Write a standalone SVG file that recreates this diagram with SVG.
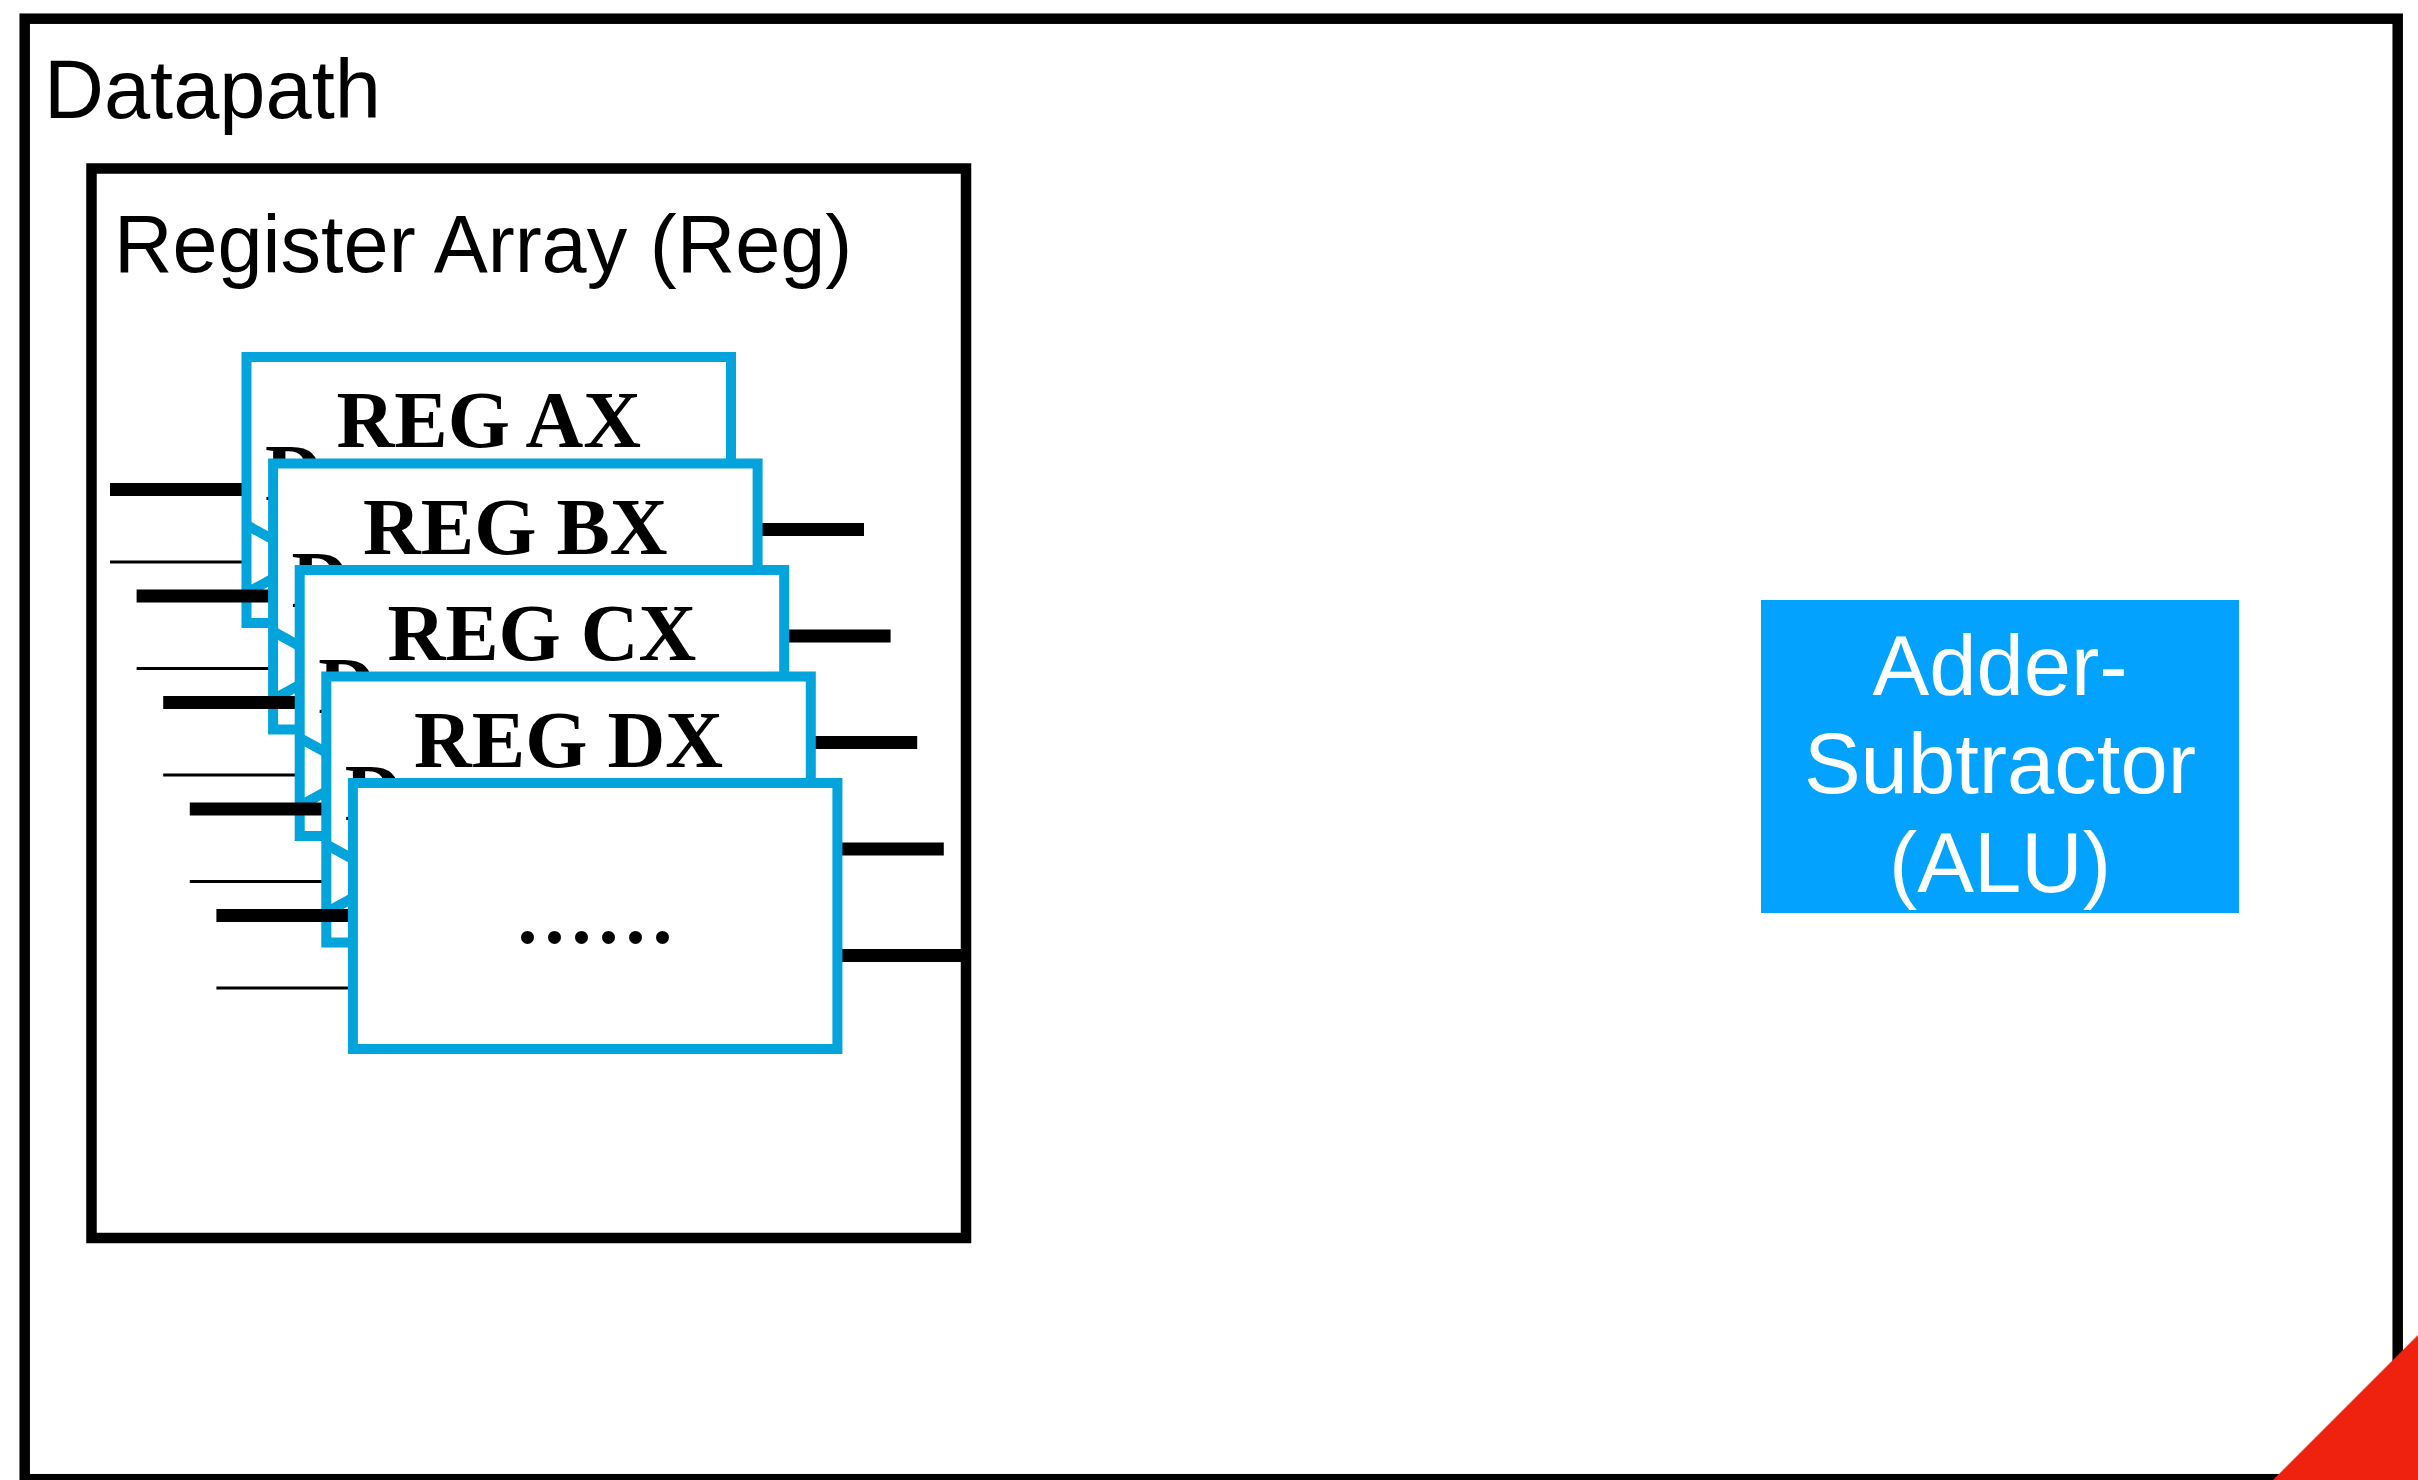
<svg xmlns="http://www.w3.org/2000/svg" width="2418" height="1480" viewBox="0 0 2418 1480">
<style>
.frame{fill:none;stroke:#000;stroke-width:10.5}
.reg{fill:#fff;stroke:#02A4DB;stroke-width:10}
.clk{fill:none;stroke:#02A4DB;stroke-width:10}
.thick{stroke:#000;stroke-width:13}
.thin{stroke:#000;stroke-width:3}
.lbl{font-family:"Liberation Sans",Arial,sans-serif;font-size:81px;fill:#000}
.rt{font-family:"Liberation Serif","Times New Roman",serif;font-weight:bold;font-size:80px;fill:#000}
.alu{font-family:"Liberation Sans",Arial,sans-serif;font-size:85px;fill:#fff;text-anchor:middle}
</style>
<rect width="2418" height="1480" fill="#fff"/>
<g id="datapath">
<rect class="frame" x="24.7" y="18.7" width="2373" height="1460.5"/>
<text class="lbl" x="44" y="118" style="font-size:83px">Datapath</text>
</g>
<g id="register-array">
<rect class="frame" x="91.5" y="168.5" width="874.5" height="1069.5"/>
<text class="lbl" x="114" y="272">Register Array (Reg)</text>
</g>
<g id="connectors-ax">
<line class="thick" x1="110" y1="489.5" x2="246.5" y2="489.5"/>
<line class="thin" x1="110" y1="562" x2="246.5" y2="562"/>
<line class="thick" x1="731" y1="529.5" x2="864" y2="529.5"/>
</g>
<g id="reg-ax">
<rect class="reg" x="246.5" y="357" width="484.5" height="266"/>
<polyline class="clk" points="246.5,525 308.5,559 246.5,593"/>
<text class="rt" x="265" y="500">D</text>
<text class="rt" x="488.75" y="447" text-anchor="middle">REG AX</text>
</g>
<g id="connectors-bx">
<line class="thick" x1="136.6" y1="596" x2="273.1" y2="596"/>
<line class="thin" x1="136.6" y1="668.5" x2="273.1" y2="668.5"/>
<line class="thick" x1="757.6" y1="636" x2="890.6" y2="636"/>
</g>
<g id="reg-bx">
<rect class="reg" x="273.1" y="463.5" width="484.5" height="266"/>
<polyline class="clk" points="273.1,631.5 335.1,665.5 273.1,699.5"/>
<text class="rt" x="291.6" y="606.5">D</text>
<text class="rt" x="515.35" y="553.5" text-anchor="middle">REG BX</text>
</g>
<g id="connectors-cx">
<line class="thick" x1="163.2" y1="702.5" x2="299.7" y2="702.5"/>
<line class="thin" x1="163.2" y1="775" x2="299.7" y2="775"/>
<line class="thick" x1="784.2" y1="742.5" x2="917.2" y2="742.5"/>
</g>
<g id="reg-cx">
<rect class="reg" x="299.7" y="570" width="484.5" height="266"/>
<polyline class="clk" points="299.7,738 361.7,772 299.7,806"/>
<text class="rt" x="318.2" y="713">D</text>
<text class="rt" x="541.95" y="660" text-anchor="middle">REG CX</text>
</g>
<g id="connectors-dx">
<line class="thick" x1="189.8" y1="809" x2="326.3" y2="809"/>
<line class="thin" x1="189.8" y1="881.5" x2="326.3" y2="881.5"/>
<line class="thick" x1="810.8" y1="849" x2="943.8" y2="849"/>
</g>
<g id="reg-dx">
<rect class="reg" x="326.3" y="676.5" width="484.5" height="266"/>
<polyline class="clk" points="326.3,844.5 388.3,878.5 326.3,912.5"/>
<text class="rt" x="344.8" y="819.5">D</text>
<text class="rt" x="568.55" y="766.5" text-anchor="middle">REG DX</text>
</g>
<g id="connectors-more">
<line class="thick" x1="216.4" y1="915.5" x2="352.9" y2="915.5"/>
<line class="thin" x1="216.4" y1="988" x2="352.9" y2="988"/>
<line class="thick" x1="837.4" y1="955.5" x2="966" y2="955.5"/>
</g>
<g id="reg-more">
<rect class="reg" x="352.9" y="783" width="484.5" height="266"/>
<text class="rt" x="598.6" y="943" text-anchor="middle" letter-spacing="7">......</text>
</g>
<g id="alu">
<rect x="1761" y="600" width="478" height="313" fill="#03A2FE"/>
<text class="alu" x="2000" y="695">Adder-</text>
<text class="alu" x="2000" y="793">Subtractor</text>
<text class="alu" x="2000" y="892">(ALU)</text>
</g>
<polygon points="2418,1335 2418,1480 2273,1480" fill="#EF2210"/>
</svg>
